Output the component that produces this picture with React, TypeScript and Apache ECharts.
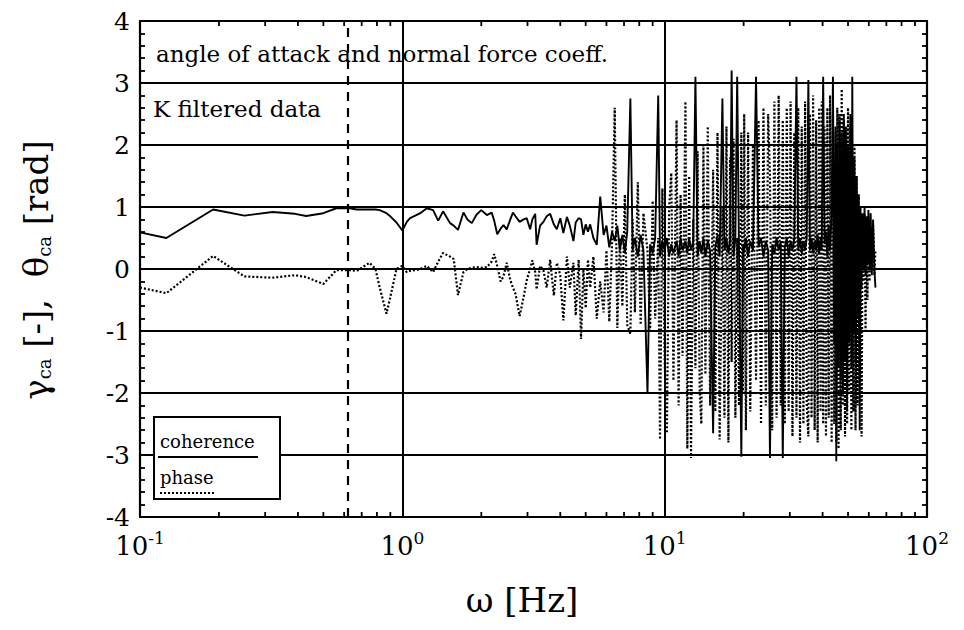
import React, { useEffect, useRef } from 'react';
import * as echarts from 'echarts';

// ---- data ----
const freqLow = [
  0.1, 0.126, 0.19, 0.25, 0.32, 0.39, 0.43, 0.5, 0.56, 0.63,
  0.67, 0.75, 0.79, 0.82, 0.87, 0.9, 0.95, 1.0, 1.04, 1.07,
  1.12, 1.17, 1.24, 1.31, 1.37, 1.43, 1.52, 1.57, 1.63, 1.71,
  1.77, 1.84, 1.92, 2.0, 2.1, 2.19, 2.24, 2.3, 2.37, 2.43,
  2.5, 2.58, 2.64, 2.7, 2.8, 2.9, 2.98, 3.07, 3.13, 3.21,
  3.25, 3.35, 3.45, 3.55, 3.66, 3.78, 3.88, 4.0, 4.11, 4.24,
  4.35, 4.49, 4.58, 4.7, 4.8, 4.9, 5.0, 5.1, 5.2, 5.35,
  5.51,
];
const coherenceLow = [
  0.59, 0.5, 0.96, 0.86, 0.92, 0.89, 0.855, 0.9, 0.98, 0.98,
  0.96, 0.96, 0.96, 0.95, 0.9, 0.85, 0.75, 0.62, 0.76, 0.82,
  0.86, 0.9, 0.98, 0.95, 0.78, 0.93, 0.74, 0.7, 0.63, 0.91,
  0.8, 0.74, 0.88, 0.95, 0.87, 0.91, 0.78, 0.56, 0.65, 0.71,
  0.64, 0.8, 0.91, 0.85, 0.76, 0.8, 0.82, 0.64, 0.8, 0.89,
  0.39, 0.7, 0.76, 0.85, 0.89, 0.72, 0.64, 0.82, 0.58, 0.84,
  0.7, 0.45, 0.75, 0.82, 0.8, 0.55, 0.72, 0.6, 0.72, 0.5,
  0.39,
];
const phaseLow = [
  -0.3, -0.39, 0.21, -0.12, -0.14, -0.1, -0.13, -0.24, -0.02, -0.02,
  -0.03, 0.1, 0.0, -0.3, -0.72, -0.45, 0.0, 0.05, -0.05, -0.03,
  -0.02, 0.0, 0.05, -0.05, 0.12, 0.26, 0.2, 0.16, -0.42, -0.05,
  0.0, 0.02, 0.03, 0.02, 0.03, 0.12, 0.24, 0.05, -0.2, -0.12,
  0.1, -0.18, -0.3, -0.4, -0.76, -0.45, -0.18, 0.0, 0.14, -0.05,
  -0.33, 0.05, -0.02, -0.3, 0.15, -0.43, 0.1, -0.1, -0.83, 0.2,
  -0.3, 0.1, -0.75, 0.15, -1.13, 0.0, -0.63, 0.15, -0.3, 0.2,
  -0.8,
];

const freqHigh = [
  5.68, 5.85, 6.0, 6.15, 6.3, 6.45, 6.6, 6.75, 6.9, 7.05,
  7.2, 7.4, 7.55, 7.7, 7.9, 8.1, 8.3, 8.6, 8.8, 9.0,
  9.2, 9.45, 9.6, 9.8, 10.0, 10.2, 10.4, 10.6, 10.8, 11.1,
  11.3, 11.5, 11.7, 12.0, 12.2, 12.4, 12.6, 12.85, 13.1, 13.35,
  13.6, 13.8, 14.05, 14.3, 14.6, 14.9, 15.3, 15.6, 15.9, 16.2,
  16.6, 16.9, 17.2, 17.5, 17.75, 18.0, 18.3, 18.6, 18.9, 19.2,
  19.6, 19.9, 20.1, 20.4, 20.8, 21.2, 21.7, 22.3, 22.8, 23.3,
  23.8, 24.3, 24.8, 25.2, 25.7, 26.2, 26.7, 27.2, 27.7, 28.2,
  28.7, 29.2, 29.7, 30.2, 30.7, 31.2, 31.8, 32.3, 32.8, 33.3,
  33.8, 34.3, 34.8, 35.3, 35.8, 36.3, 36.8, 37.3, 37.8, 38.3,
  38.8, 39.3, 39.7, 40.2, 40.7, 41.2, 41.7, 42.2, 42.7, 43.3,
  43.8, 44.3, 44.8, 45.1, 45.5, 46.0, 46.4, 46.9, 47.3, 47.8,
  48.2, 48.7, 49.1, 49.6, 50.0, 50.5, 51.0, 51.5, 51.9, 52.4,
  52.9, 53.4, 53.9, 54.4, 54.9, 55.4, 55.8, 56.3, 56.8, 57.3,
  57.8, 58.3, 58.8, 59.3, 59.8, 60.4, 61.0, 61.6, 62.3, 63.0,
  63.6,
];
const coherenceHigh = [
  1.17, 0.55, 0.7, 0.35, 0.6, 0.45, 0.7, 0.3, 0.55, 0.25,
  0.6, 2.75, 0.3, 0.5, 0.2, 0.55, 0.3, -2.0, 0.4, 0.25,
  0.5, 2.8, 0.2, 0.45, 0.3, 0.5, 0.2, 0.4, 0.25, 0.45,
  0.2, 0.5, 0.3, 0.45, 0.25, 0.5, 0.3, 0.45, 3.1, 0.2,
  0.45, 0.25, 0.5, 0.2, 0.45, 0.3, -2.65, 0.35, 0.55, 0.2,
  2.75, 0.3, 0.5, 0.25, 0.45, 3.2, 0.2, 0.5, 3.1, 0.3,
  -3.03, 0.4, 0.3, 0.5, 0.2, 0.45, 0.3, 3.1, 0.35, 0.5,
  0.2, 0.45, 0.3, -3.05, 0.4, 0.25, 0.5, 0.3, 0.45, -3.05,
  0.35, 0.5, 0.2, 0.45, 0.3, 0.5, 3.1, 0.3, 0.5, 0.25,
  0.45, 0.3, 0.5, 3.05, 0.3, 0.5, 0.25, 0.45, 0.3, 0.55,
  0.25, 0.5, 0.3, 3.1, 0.4, 0.6, 0.2, 0.7, 0.3, 0.9,
  3.1, -1.2, 2.3, -3.1, 2.0, -1.6, 2.4, -1.8, 2.2, -2.0,
  2.5, -1.5, 2.3, -2.3, 2.0, -1.2, 2.5, -1.6, 3.1, -1.0,
  1.8, -1.5, 1.5, -0.8, 1.2, -2.6, 1.0, -0.3, 0.9, 0.0,
  1.0, -0.1, 0.85, 0.1, 0.95, 0.0, 0.9, -0.1, 0.8, 0.0,
  -0.3,
];
const phaseHigh = [
  -0.2, -0.7, 0.3, -0.85, 0.4, 2.6, -0.95, 0.5, -0.6, 1.2,
  -0.9, -1.05, 0.8, -0.7, 1.4, -0.9, 0.9, 0.3, -1.0, 1.1,
  -0.8, 0.5, -2.75, 1.3, -1.5, -2.65, 1.0, 1.55, -1.8, 2.4,
  -2.2, 1.2, -1.4, 2.7, -2.9, 1.5, -3.05, 0.8, -1.6, 1.9,
  -2.0, -2.5, 2.0, -1.7, 2.3, -2.2, 1.6, -2.3, 2.2, -2.75,
  1.0, -2.4, 2.3, -2.8, 1.8, -1.5, 2.1, -2.4, 0.5, -2.2,
  2.2, -2.0, 2.5, -2.6, 2.2, -2.3, 2.0, -1.8, 2.4, -2.5,
  2.6, -2.2, 2.5, 1.5, -2.6, 2.7, -2.4, 2.8, -2.2, 2.4,
  -2.5, 2.6, -2.3, 2.7, -2.7, 2.2, -2.4, 2.6, -2.8, 2.3,
  -2.5, 2.7, -2.2, -2.7, 2.5, -2.4, 2.8, -2.6, 2.4, -2.8,
  2.6, -2.3, 2.7, -2.5, 2.3, -2.7, 2.6, -2.4, 2.8, -2.8,
  2.5, -2.5, 2.2, -2.8, 2.6, -2.9, 2.5, -2.6, 2.9, -2.2,
  2.4, -2.7, 2.1, -2.5, 2.6, -2.0, 2.3, -2.6, 1.8, -2.3,
  2.0, -2.6, 1.5, -2.2, 1.2, -1.8, 0.8, -2.7, 0.6, -0.2,
  0.9, -1.0, 0.7, -0.5, 0.8, -0.2, 0.5, 0.1, 0.7, -0.1,
  0.3,
];

const DASH_FREQ = 0.62;
const X_MIN = 0.1;
const X_MAX = 100;
const Y_MIN = -4;
const Y_MAX = 4;
const MINOR_MULTIPLIERS = [2, 3, 4, 5, 6, 7, 8, 9];
const DECADES = [0.1, 1, 10];
const TITLE_TEXT = 'angle of attack and normal force coeff.';
const SUBTITLE_TEXT = 'K filtered data';
const LEGEND_NAMES = ['coherence', 'phase'];

const FONT = 'DejaVu Serif';

export default function App() {
  const ref = useRef<HTMLDivElement>(null);

  useEffect(() => {
    document.body.style.margin = '0';
    const el = ref.current;
    if (!el) return;
    const chart = echarts.init(el, null, { renderer: 'svg' });

    const freq = freqLow.concat(freqHigh);
    const coh = coherenceLow.concat(coherenceHigh);
    const ph = phaseLow.concat(phaseHigh);
    const n = Math.min(freq.length, coh.length, ph.length);
    const cohData: number[][] = [];
    const phData: number[][] = [];
    for (let i = 0; i < n; i++) {
      cohData.push([freq[i], coh[i]]);
      phData.push([freq[i], ph[i]]);
    }

    const G = { left: 140, right: 37, top: 21, bottom: 113 };
    const black = '#000';
    const axisLine = { show: true, onZero: false, lineStyle: { color: black, width: 2.2 } };

    chart.setOption({
      animation: false,
      backgroundColor: '#fff',
      grid: { ...G, containLabel: false },
      xAxis: [
        {
          type: 'log', logBase: 10, min: X_MIN, max: X_MAX, position: 'bottom',
          axisLine,
          axisTick: { show: true, inside: true, length: 7, lineStyle: { color: black, width: 1.8 } },
          axisLabel: {
            margin: 12,
            formatter: (v: number) => `{b|10}{s|${Math.round(Math.log10(v))}}`,
            rich: {
              b: { fontFamily: FONT, fontSize: 26, color: black, lineHeight: 30, verticalAlign: 'bottom' },
              s: { fontFamily: FONT, fontSize: 17, color: black, lineHeight: 17, verticalAlign: 'top' },
            },
          },
          splitLine: { show: true, lineStyle: { color: black, width: 2 } },
        },
        {
          type: 'log', logBase: 10, min: X_MIN, max: X_MAX, position: 'top',
          axisLine,
          axisTick: { show: true, inside: true, length: 7, lineStyle: { color: black, width: 1.8 } },
          axisLabel: { show: false },
          splitLine: { show: false },
        },
      ],
      yAxis: [
        {
          type: 'value', min: Y_MIN, max: Y_MAX, interval: 1, position: 'left',
          axisLine,
          axisTick: { show: true, inside: true, length: 8, lineStyle: { color: black, width: 1.8 } },
          minorTick: { show: true, splitNumber: 5, length: 5, lineStyle: { color: black, width: 1.8 } },
          axisLabel: { color: black, fontFamily: FONT, fontSize: 25, margin: 10 },
          splitLine: { show: true, lineStyle: { color: black, width: 2 } },
        },
        {
          type: 'value', min: Y_MIN, max: Y_MAX, interval: 1, position: 'right',
          axisLine,
          axisTick: { show: true, inside: true, length: 8, lineStyle: { color: black, width: 1.8 } },
          minorTick: { show: true, splitNumber: 5, length: 5, lineStyle: { color: black, width: 1.8 } },
          axisLabel: { show: false },
          splitLine: { show: false },
        },
      ],
      series: [
        {
          type: 'line', name: 'phase', xAxisIndex: 0, yAxisIndex: 0,
          data: phData, showSymbol: false, symbol: 'none', clip: true,
          lineStyle: { color: black, width: 2.2, type: [2, 2] },
          markLine: {
            silent: true, symbol: 'none', label: { show: false },
            lineStyle: { color: black, width: 2.2, type: [9, 7] },
            data: [{ xAxis: DASH_FREQ }],
          },
        },
        {
          type: 'line', name: 'coherence', xAxisIndex: 0, yAxisIndex: 0,
          data: cohData, showSymbol: false, symbol: 'none', clip: true,
          lineStyle: { color: black, width: 1.9 },
        },
      ],
    });

    const H = 630;
    const yBottom = H - G.bottom;
    const yTop = G.top;
    const graphics: any[] = [];
    DECADES.forEach((d) => {
      MINOR_MULTIPLIERS.forEach((k) => {
        const px = chart.convertToPixel({ xAxisIndex: 0 }, k * d) as number;
        graphics.push({ type: 'line', z: 50, shape: { x1: px, y1: yBottom, x2: px, y2: yBottom - 5 }, style: { stroke: black, lineWidth: 1.8 } });
        graphics.push({ type: 'line', z: 50, shape: { x1: px, y1: yTop, x2: px, y2: yTop + 5 }, style: { stroke: black, lineWidth: 1.8 } });
      });
    });

    graphics.push(
      { type: 'text', z: 60, x: 156, y: 54, style: { text: TITLE_TEXT, fontFamily: FONT, fontSize: 23, fill: black, align: 'left', verticalAlign: 'middle' } },
      { type: 'text', z: 60, x: 153, y: 109, style: { text: SUBTITLE_TEXT, fontFamily: FONT, fontSize: 23, fill: black, align: 'left', verticalAlign: 'middle' } },
      { type: 'rect', z: 100, shape: { x: 154, y: 417, width: 126, height: 82 }, style: { fill: '#fff', stroke: black, lineWidth: 2 } },
      { type: 'text', z: 101, x: 160, y: 441, style: { text: LEGEND_NAMES[0], fontFamily: FONT, fontSize: 18, fill: black, align: 'left', verticalAlign: 'middle' } },
      { type: 'line', z: 101, shape: { x1: 158, y1: 457, x2: 258, y2: 457 }, style: { stroke: black, lineWidth: 2.2 } },
      { type: 'text', z: 101, x: 160, y: 477, style: { text: LEGEND_NAMES[1], fontFamily: FONT, fontSize: 18, fill: black, align: 'left', verticalAlign: 'middle' } },
      { type: 'line', z: 101, shape: { x1: 160, y1: 493, x2: 215, y2: 493 }, style: { stroke: black, lineWidth: 2.2, lineDash: [2, 2] } },
      {
        type: 'text', z: 60, x: 33, y: 270, rotation: Math.PI / 2,
        style: {
          text: '{t|γ}{s|ca}{t| [-],  θ}{s|ca}{t| [rad]}',
          align: 'center', verticalAlign: 'middle',
          rich: {
            t: { fontFamily: FONT, fontSize: 34, fill: black, lineHeight: 40, verticalAlign: 'bottom' },
            s: { fontFamily: FONT, fontSize: 18, fill: black, lineHeight: 20, verticalAlign: 'bottom' },
          },
        },
      },
      { type: 'text', z: 60, x: 522, y: 600, style: { text: 'ω [Hz]', fontFamily: FONT, fontSize: 34, fill: black, align: 'center', verticalAlign: 'middle' } },
    );

    chart.setOption({ graphic: graphics });

    return () => chart.dispose();
  }, []);

  return <div ref={ref} style={{ width: 964, height: 630 }} />;
}
